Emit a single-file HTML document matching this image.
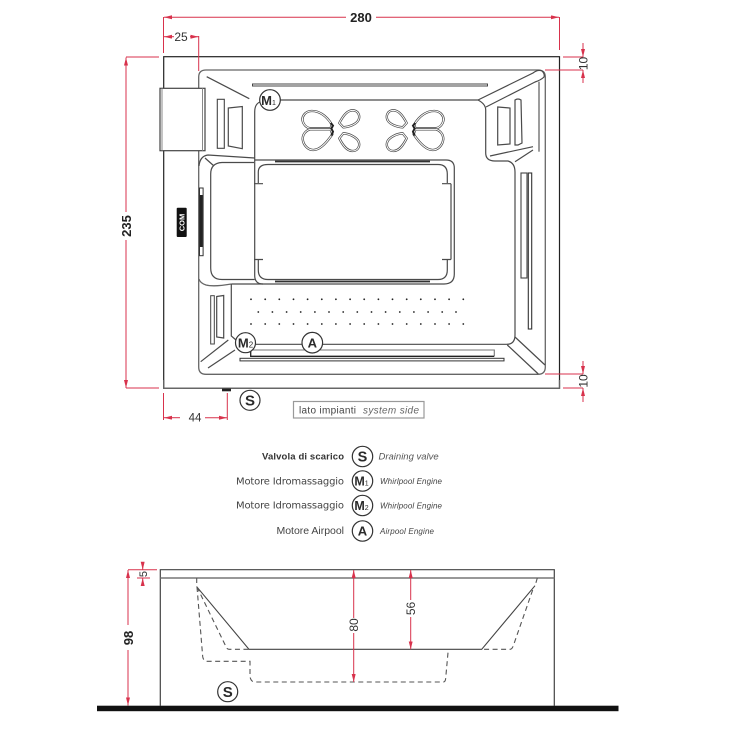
<!DOCTYPE html>
<html>
<head>
<meta charset="utf-8">
<style>
html,body{margin:0;padding:0;background:#fff;width:746px;height:750px;overflow:hidden}
svg{display:block;filter:blur(.3px)}
text{font-family:"Liberation Sans",sans-serif}
.l{fill:none;stroke:#4a4a4a;stroke-width:1.2}
.k{fill:none;stroke:#222;stroke-width:1.2}
.g{fill:none;stroke:#666;stroke-width:1.3}
.r{fill:none;stroke:#d8324c;stroke-width:1}
.a{fill:none;stroke:#d8324c;stroke-width:1;marker-end:url(#m)}
.d{fill:none;stroke:#555;stroke-width:1.1;stroke-dasharray:5 3.5}
.c{fill:#fff;stroke:#333;stroke-width:1.2}
.ct{font-weight:bold;fill:#2a2a2a;text-anchor:middle}
.n{fill:#333;text-anchor:middle}
</style>
</head>
<body>
<svg width="746" height="750" viewBox="0 0 746 750" xmlns="http://www.w3.org/2000/svg">
<defs>
<marker id="m" markerWidth="9" markerHeight="5" refX="8" refY="2" orient="auto" markerUnits="userSpaceOnUse"><path d="M0,0L8,2L0,4z" fill="#d8324c"/></marker>
<g id="fly">
<path id="w1" d="M125,88C108,60 85,47 64,48C44,49 35,66 38,78C41,90 50,98 60,100L122,100z" fill="#fff" stroke="#444" stroke-width="7" stroke-linejoin="round"/>
<path d="M125,88C108,60 85,47 64,48C44,49 35,66 38,78C41,90 50,98 60,100L122,100z" fill="none" stroke="#fff" stroke-width="3" stroke-linejoin="round"/>
<path d="M122,103L60,103C47,107 38,118 38,132C40,152 55,165 70,165C90,165 112,140 127,118z" fill="#fff" stroke="#444" stroke-width="7" stroke-linejoin="round"/>
<path d="M122,103L60,103C47,107 38,118 38,132C40,152 55,165 70,165C90,165 112,140 127,118z" fill="none" stroke="#fff" stroke-width="3" stroke-linejoin="round"/>
<path d="M122,84L129,92L124,101L129,110L124,122" fill="none" stroke="#222" stroke-width="6"/>
<path d="M148,84C158,65 170,46 188,46C204,46 212,62 205,76C198,88 178,96 160,97z" fill="#fff" stroke="#444" stroke-width="7" stroke-linejoin="round"/>
<path d="M148,84C158,65 170,46 188,46C204,46 212,62 205,76C198,88 178,96 160,97z" fill="none" stroke="#fff" stroke-width="3" stroke-linejoin="round"/>
<path d="M148,130C158,150 170,168 188,168C204,168 212,152 205,138C198,126 178,116 160,115z" fill="#fff" stroke="#444" stroke-width="7" stroke-linejoin="round"/>
<path d="M148,130C158,150 170,168 188,168C204,168 212,152 205,138C198,126 178,116 160,115z" fill="none" stroke="#fff" stroke-width="3" stroke-linejoin="round"/>
</g>
</defs>

<!-- plan: outer -->
<rect x="163.7" y="56.7" width="395.8" height="331.6" fill="none" stroke="#222" stroke-width="1.2"/>
<path d="M163.7,380V388.3H559.5V380" fill="none" stroke="#666" stroke-width="1.3"/>
<rect x="222" y="388.5" width="9" height="2.8" fill="#222"/>

<!-- rim -->
<path class="g" d="M206,70H538Q545.3,70 545.3,77V367Q545.3,374.3 538,374.3H206Q198.7,374.3 198.7,367V77Q198.7,70 206,70"/>
<path class="g" d="M199,279Q200,283 206,285Q214,287 231.3,284"/>
<rect x="160" y="88.3" width="45" height="62.4" fill="#fff" stroke="#444" stroke-width="1.2"/>
<path fill="none" stroke="#888" stroke-width="1" d="M162,88.3V150.7M202.5,88.3V150.7"/>

<!-- basin -->
<path class="l" d="M280,100H478Q485.7,104 485.7,110V153Q485.7,161 495,161H508Q515,163 515,172V335Q515,344.3 506.7,344.3H323"/>
<path class="l" d="M302,344.3H256M231.3,284V336L236,340"/>
<path class="l" d="M260,102Q254.7,104 254.7,112V158"/>
<!-- seat / pool -->
<path class="l" d="M199,166Q200,156 208,155L254.7,158M254.7,160H446Q454.3,160 454.3,168V274Q454.3,284 444,284H231.3"/>
<path class="l" d="M205,158L214,166M254,162.5H222Q210.7,163 210.7,174V268Q210.7,279.5 222,279.5H254.7"/>
<path class="l" d="M254.7,158V276Q255,284 263,284"/>
<path class="l" d="M258.3,183V172Q258.3,164.5 268,164.5H438Q447.3,164.5 447.3,174V183M254,183.7H263M442,183.7H451M451,183.7V259.5M442,259.5H451M447.3,260V270Q447.3,279.5 438,279.5H268Q258.3,279.5 258.3,270V260M254,259.5H263"/>
<path d="M275,161.5H430M275,281.5H430" fill="none" stroke="#333" stroke-width="1.8"/>

<!-- long bars -->
<rect x="252.5" y="84" width="235" height="2" fill="#fff" stroke="#444" stroke-width="1"/>
<path fill="none" stroke="#777" stroke-width="1.1" d="M251,350H494.3V356"/>
<path fill="none" stroke="#222" stroke-width="1.3" d="M250.7,347V356.3H494.3"/>
<rect x="240" y="358.3" width="264" height="2.6" fill="#fff" stroke="#333" stroke-width="1"/>

<!-- left details -->
<path class="l" d="M206.7,76.7L249.3,98.7"/>
<rect x="217.3" y="99.3" width="7" height="49" fill="none" stroke="#444" stroke-width="1.1"/>
<path class="l" d="M228.3,108L242.3,106.5V148.7L228.3,146z"/>
<rect x="199.5" y="188" width="3.6" height="67.7" fill="#fff" stroke="#333" stroke-width="1"/>
<rect x="199.8" y="195" width="3" height="52" fill="#222"/>
<rect x="176.7" y="207.7" width="10" height="29.3" rx="1" fill="#111"/>
<text transform="translate(184.5,222.5) rotate(-90)" text-anchor="middle" font-size="7.5" font-weight="bold" fill="#fff">COM</text>
<rect x="210.7" y="295.7" width="3.6" height="48.3" fill="none" stroke="#444" stroke-width="1"/>
<path class="l" d="M216.7,296.5L223.7,295.5V338L216.7,337z"/>
<path class="l" d="M228.3,340L200.7,361.7M235,350L208,368"/>

<!-- right details -->
<path class="l" d="M478,100L533,73Q538,69 542,71Q545,74 544,77Q541,80 535,82L486,107"/>
<path class="g" d="M539,81.7V151.7"/>
<path class="l" d="M490,156L533,146.7M515,161.7L533,150"/>
<path class="l" d="M497.7,107L510,108V144L497.7,145z"/>
<path class="l" d="M515,100Q518,98 521,100L522,143L518,145H515z"/>
<rect x="521" y="173" width="6" height="105" fill="none" stroke="#444" stroke-width="1.1"/>
<rect x="528.3" y="173" width="3.4" height="156" fill="none" stroke="#333" stroke-width="1.1"/>
<path class="l" d="M515,337L545,365M507.3,345L538.3,374"/>

<!-- jets -->
<g transform="translate(290,95) scale(.3333)"><use href="#fly"/></g>
<g transform="translate(290,95) scale(.3333) translate(498,0) scale(-1,1)"><use href="#fly"/></g>

<!-- dots -->
<g fill="#222">
<circle cx="251" cy="299.3" r=".9"/><circle cx="265.2" cy="299.3" r=".9"/><circle cx="279.3" cy="299.3" r=".9"/><circle cx="293.5" cy="299.3" r=".9"/><circle cx="307.6" cy="299.3" r=".9"/><circle cx="321.8" cy="299.3" r=".9"/><circle cx="335.9" cy="299.3" r=".9"/><circle cx="350.1" cy="299.3" r=".9"/><circle cx="364.2" cy="299.3" r=".9"/><circle cx="378.4" cy="299.3" r=".9"/><circle cx="392.5" cy="299.3" r=".9"/><circle cx="406.7" cy="299.3" r=".9"/><circle cx="420.8" cy="299.3" r=".9"/><circle cx="435" cy="299.3" r=".9"/><circle cx="449.1" cy="299.3" r=".9"/><circle cx="463.3" cy="299.3" r=".9"/>
<circle cx="258.3" cy="312" r=".9"/><circle cx="272.4" cy="312" r=".9"/><circle cx="286.6" cy="312" r=".9"/><circle cx="300.7" cy="312" r=".9"/><circle cx="314.9" cy="312" r=".9"/><circle cx="329" cy="312" r=".9"/><circle cx="343.2" cy="312" r=".9"/><circle cx="357.3" cy="312" r=".9"/><circle cx="371.5" cy="312" r=".9"/><circle cx="385.6" cy="312" r=".9"/><circle cx="399.8" cy="312" r=".9"/><circle cx="413.9" cy="312" r=".9"/><circle cx="428.1" cy="312" r=".9"/><circle cx="442.2" cy="312" r=".9"/><circle cx="456" cy="312" r=".9"/>
<circle cx="251" cy="324" r=".9"/><circle cx="265.2" cy="324" r=".9"/><circle cx="279.3" cy="324" r=".9"/><circle cx="293.5" cy="324" r=".9"/><circle cx="307.6" cy="324" r=".9"/><circle cx="321.8" cy="324" r=".9"/><circle cx="335.9" cy="324" r=".9"/><circle cx="350.1" cy="324" r=".9"/><circle cx="364.2" cy="324" r=".9"/><circle cx="378.4" cy="324" r=".9"/><circle cx="392.5" cy="324" r=".9"/><circle cx="406.7" cy="324" r=".9"/><circle cx="420.8" cy="324" r=".9"/><circle cx="435" cy="324" r=".9"/><circle cx="449.1" cy="324" r=".9"/><circle cx="463.3" cy="324" r=".9"/>
</g>

<!-- plan circles -->
<circle class="c" cx="270" cy="100" r="10.3"/>
<text class="ct" x="268.5" y="105" font-size="13">M<tspan font-size="7" font-weight="normal">1</tspan></text>
<circle class="c" cx="245.5" cy="342.7" r="10"/>
<text class="ct" x="245.5" y="347.5" font-size="13">M<tspan font-size="8" font-weight="normal">2</tspan></text>
<circle class="c" cx="312.3" cy="342.7" r="10.3"/>
<text class="ct" x="312.3" y="347.5" font-size="13">A</text>
<circle class="c" cx="250" cy="400.3" r="10"/>
<text class="ct" x="250" y="405.5" font-size="15">S</text>

<!-- plan dimensions -->
<path class="r" d="M163.5,17V53M559.5,17V50M198.7,36V71M126,57H159M126,388H159M563,57H583M545,70H583M545,374H583M563,388H583M163.5,393V420M227.3,393V420"/>
<path class="a" d="M346,17.3H164"/>
<path class="a" d="M376,17.3H559"/>
<path class="a" d="M174,36.7H164"/>
<path class="a" d="M190,36.7H198.5"/>
<path class="a" d="M126,212V57.5"/>
<path class="a" d="M126,240V388"/>
<path class="a" d="M583,43V57"/>
<path class="a" d="M583,83V70"/>
<path class="a" d="M583,361V374"/>
<path class="a" d="M583,402V388"/>
<path class="a" d="M180,417.7H164"/>
<path class="a" d="M205,417.7H227"/>
<text x="361" y="22" text-anchor="middle" font-size="13" font-weight="bold" fill="#222">280</text>
<text class="n" x="181" y="41" font-size="12">25</text>
<text transform="translate(131,226) rotate(-90)" text-anchor="middle" font-size="13" font-weight="bold" fill="#222">235</text>
<text class="n" transform="translate(587.5,63.5) rotate(-90)" font-size="12">10</text>
<text class="n" transform="translate(587.5,381) rotate(-90)" font-size="12">10</text>
<text class="n" x="195" y="421.5" font-size="11.5">44</text>

<!-- system side box -->
<rect x="293.5" y="401.5" width="130.5" height="16.5" fill="#fff" stroke="#999" stroke-width="1.2"/>
<text x="299" y="413.5" font-size="10" fill="#444" textLength="57">lato impianti</text>
<text x="363" y="413.5" font-size="10" font-style="italic" fill="#666" textLength="56">system side</text>

<!-- legend -->
<text x="262" y="459.5" font-size="9.5" font-weight="bold" fill="#333" textLength="82">Valvola di scarico</text>
<text x="236" y="484.5" font-size="10" fill="#444" style="font-family:'DejaVu Sans',sans-serif" textLength="108">Motore Idromassaggio</text>
<text x="236" y="508.5" font-size="10" fill="#444" style="font-family:'DejaVu Sans',sans-serif" textLength="108">Motore Idromassaggio</text>
<text x="276.5" y="534" font-size="10.5" fill="#444" textLength="67.5">Motore Airpool</text>
<circle class="c" cx="362.5" cy="456.5" r="10.2"/>
<text class="ct" x="362.5" y="461.5" font-size="14.5">S</text>
<circle class="c" cx="362.5" cy="481" r="10.2"/>
<text class="ct" x="361.5" y="485.5" font-size="12.5">M<tspan font-size="7" font-weight="normal">1</tspan></text>
<circle class="c" cx="362.5" cy="505.5" r="10.2"/>
<text class="ct" x="361.5" y="510" font-size="12.5">M<tspan font-size="7" font-weight="normal">2</tspan></text>
<circle class="c" cx="362.5" cy="531" r="10.2"/>
<text class="ct" x="362.5" y="535.5" font-size="13">A</text>
<text x="378.5" y="459.5" font-size="9.5" font-style="italic" fill="#555">Draining valve</text>
<text x="380" y="484" font-size="8" font-style="italic" fill="#444" textLength="62">Whirlpool Engine</text>
<text x="380" y="508.5" font-size="8" font-style="italic" fill="#444" textLength="62">Whirlpool Engine</text>
<text x="380" y="534" font-size="8" font-style="italic" fill="#444" textLength="54">Airpool Engine</text>

<!-- section -->
<rect x="97" y="705.7" width="521.5" height="5.5" fill="#111"/>
<path fill="none" stroke="#444" stroke-width="1.2" d="M160.3,706V569.7H554.3V706"/>
<path fill="none" stroke="#777" stroke-width="1.6" d="M160.3,578H554.3"/>
<path fill="none" stroke="#444" stroke-width="1.1" d="M196.7,586.7L249,649.3H481.7L535,585.7"/>
<path class="d" d="M197,587L202.7,656.7Q203.5,661.3 207,661.3H250V676.7Q251,682 255,682H443.3Q445.5,682 445.7,678L448.3,649.3"/>
<path class="d" d="M197,587L226,646.7Q227,649.3 229,649.3H249"/>
<path class="d" d="M196.7,578V587"/>
<path class="d" d="M537.3,578L535,586M532.7,590L513.3,645.7Q512,649.3 510,649.3H481.7"/>
<circle class="c" cx="227.7" cy="691.7" r="10"/>
<text class="ct" x="227.7" y="697" font-size="15">S</text>

<!-- section dimensions -->
<path class="r" d="M128,569.7H157M137,578H150"/>
<path class="a" d="M128,625V570"/>
<path class="a" d="M128,650V705.5"/>
<path class="a" d="M142.7,562V569.7"/>
<path class="a" d="M142.7,586V578"/>
<path class="a" d="M353.7,618V570"/>
<path class="a" d="M353.7,633V682"/>
<path class="a" d="M410.7,600V570"/>
<path class="a" d="M410.7,617V649.3"/>
<text transform="translate(133,638) rotate(-90)" text-anchor="middle" font-size="13" font-weight="bold" fill="#222">98</text>
<text class="n" transform="translate(147,574) rotate(-90)" font-size="11">5</text>
<text class="n" transform="translate(358,625) rotate(-90)" font-size="12">80</text>
<text class="n" transform="translate(415,608.5) rotate(-90)" font-size="12">56</text>
</svg>
</body>
</html>
